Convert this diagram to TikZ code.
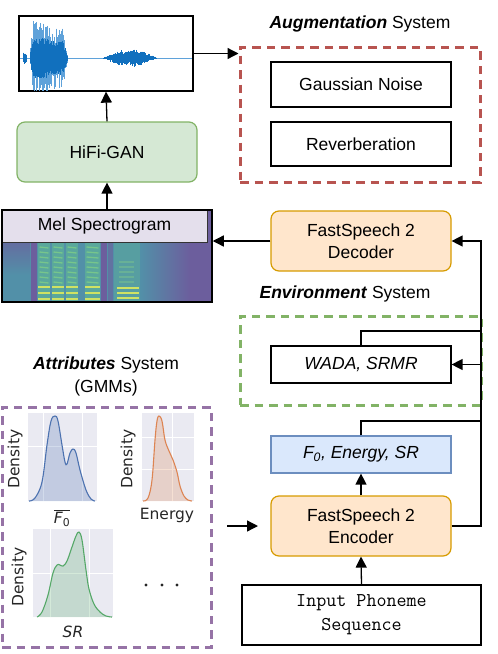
\documentclass[tikz,border=0pt]{standalone}
\usepackage{fontspec}
\setmainfont{Liberation Sans}
\newfontfamily\dejavu{DejaVu Sans}
\usetikzlibrary{arrows.meta,calc}
\definecolor{augred}{HTML}{B85450}
\definecolor{envgreen}{HTML}{82B366}
\definecolor{attrpurple}{HTML}{9673A6}
\definecolor{hififill}{HTML}{D5E8D4}
\definecolor{fsfill}{HTML}{FFE6CC}
\definecolor{fsdraw}{HTML}{D79B00}
\definecolor{fzfill}{HTML}{DAE8FC}
\definecolor{fzdraw}{HTML}{6C8EBF}
\definecolor{mellabel}{HTML}{E4DFEC}
\definecolor{specteal}{HTML}{5290A8}
\definecolor{specpurple}{HTML}{6C5E9D}
\definecolor{specgreen}{HTML}{5AA89C}
\definecolor{harmgreen}{HTML}{76C58C}
\definecolor{harmyel}{HTML}{CFE263}
\definecolor{wavedark}{HTML}{1170BE}
\definecolor{wavelight}{HTML}{5FA2DA}
\definecolor{axbg}{HTML}{EAEAF2}
\definecolor{sbblue}{HTML}{4C72B0}
\definecolor{sborange}{HTML}{DD8452}
\definecolor{sbgreen}{HTML}{55A868}
\definecolor{labgray}{HTML}{262626}
\tikzset{
  base/.style={font=\fontsize{17.5}{22}\selectfont},
  box/.style={base, draw, line width=1.2pt, inner sep=0pt, align=center, minimum width=180pt},
  rbox/.style={box, rounded corners=8pt},
  dashbox/.style={draw, line width=3pt, dash pattern=on 8.5pt off 6pt, inner sep=0pt},
  arr/.style={-{Triangle[length=11pt,width=11pt]}, line width=1.3pt},
  conn/.style={line width=1.3pt},
  dens/.style={font=\dejavu\fontsize{15.5}{18}\selectfont, text=labgray, inner sep=0pt},
  gridw/.style={white, line width=0.8pt},
}
\begin{document}
\begin{tikzpicture}[x=1pt,y=-1pt]
\useasboundingbox (0,0) rectangle (498,654);

% ---------- waveform ----------
\node[draw, line width=1.3pt, fill=white, minimum width=174pt, minimum height=75pt, inner sep=0pt] (wave) at (106,53.5) {};
\begin{scope}
\clip (20,17) rectangle (192,90);
\draw[wavelight, line width=0.8pt] (20,58) -- (192,58);
\pgfmathsetseed{7}
\foreach \x in {23,23.5,...,26.5} {
  \pgfmathsetmacro\up{6*(0.3+0.7*rnd)}
  \pgfmathsetmacro\dn{6*(0.3+0.7*rnd)}
  \draw[wavedark, line width=0.6pt] (\x,58-\up) -- (\x,58+\dn);
}
\foreach \x in {30,30.5,...,68} {
  \pgfmathsetmacro\env{(\x<33) ? ((\x-29)*9) : ((\x<50) ? 37 : ((\x<63) ? 32 : (32*(68-\x)/5)))}
  \pgfmathsetmacro\up{\env*(0.3+0.7*rnd)}
  \pgfmathsetmacro\dn{\env*(0.3+0.7*rnd)}
  \draw[wavelight, line width=0.7pt] (\x,58-\up) -- (\x,58+\dn);
}
\foreach \x in {30.5,31,...,67} {
  \pgfmathsetmacro\env{(\x<33) ? ((\x-29)*5) : ((\x<50) ? 20 : ((\x<63) ? 17 : (17*(68-\x)/5)))}
  \pgfmathsetmacro\up{\env*(0.6+0.4*rnd)}
  \pgfmathsetmacro\dn{\env*(0.6+0.4*rnd)}
  \draw[wavedark, line width=0.8pt] (\x,58-\up) -- (\x,58+\dn);
}
\foreach \x in {103,103.5,...,157} {
  \pgfmathsetmacro\env{9*sin((\x-103)*180/54)}
  \pgfmathsetmacro\up{\env*(0.4+0.6*rnd)}
  \pgfmathsetmacro\dn{\env*(0.4+0.6*rnd)}
  \draw[wavedark, line width=0.6pt] (\x,58-\up) -- (\x,58+\dn);
}
\end{scope}

% ---------- HiFi-GAN ----------
\node[rbox, draw=envgreen, fill=hififill, minimum height=60pt] (hifi) at (107,152) {HiFi-GAN};

% ---------- Augmentation ----------
\node[base] (augtitle) at (360,24) {\textbf{\textit{Augmentation}} System};
\node[dashbox, draw=augred, minimum width=240pt, minimum height=135pt] (aug) at (360,114.5) {};
\node[box, minimum height=45pt] (gauss) at (361,84.5) {Gaussian Noise};
\node[box, minimum height=44pt] (reverb) at (361,144) {Reverberation};

% ---------- Mel spectrogram ----------
\begin{scope}
\clip (2,210) rectangle (212,302);
\fill[specteal] (2,210) rectangle (212,302);
\shade[left color=specteal, right color=specpurple] (140,210) rectangle (190,302);
\fill[specpurple] (190,210) rectangle (212,302);
\shade[top color=specpurple!70!specteal, bottom color=specteal] (2,242) rectangle (30,275);
\fill[specpurple] (31,242) rectangle (37,302);
\fill[specpurple] (101,242) rectangle (107,302);
\fill[specpurple!60!specteal] (108,242) rectangle (113,302);
\foreach \a/\b in {38/50,52/64,66/78,85/100} {
  \fill[specgreen] (\a,242) rectangle (\b,302);
  \foreach \y in {247,252,...,282}
    \draw[harmgreen, line width=1.3pt] (\a+1.5,\y) -- (\b-1.5,\y+1);
  \foreach \y in {287,293,299}
    \draw[harmyel, line width=1.9pt] (\a,\y) -- (\b,\y);
}
\fill[specgreen!60!specteal] (114,242) rectangle (140,302);
\foreach \y in {262,267,...,282}
  \draw[harmgreen!60!specteal, line width=1.3pt] (119,\y) -- (134,\y);
\foreach \y in {288,293,298}
  \draw[harmyel, line width=1.9pt] (117,\y) -- (139,\y);
\end{scope}
\node[base, draw=black!80, line width=1pt, fill=mellabel, minimum width=205pt, minimum height=32pt, inner sep=0pt] (mellab) at (104.5,226) {Mel Spectrogram};
\node[draw, line width=1.5pt, minimum width=210pt, minimum height=92pt, inner sep=0pt] (mel) at (107,256) {};

% ---------- FastSpeech 2 ----------
\node[rbox, draw=fsdraw, fill=fsfill, minimum height=60pt] (dec) at (361,241) {FastSpeech 2\\Decoder};
\node[rbox, draw=fsdraw, fill=fsfill, minimum height=60pt] (enc) at (361,526) {FastSpeech 2\\Encoder};

% ---------- Environment ----------
\node[base] (envtitle) at (345,294) {\textbf{\textit{Environment}} System};
\node[dashbox, draw=envgreen, minimum width=241pt, minimum height=89pt] (env) at (360.5,360.5) {};
\node[box, minimum height=37pt] (wada) at (361,364.5) {\textit{WADA, SRMR}};

% ---------- F0 box ----------
\node[box, draw=fzdraw, fill=fzfill, minimum height=37pt] (fz) at (361,454.5) {\textit{F\textsubscript{0}, Energy, SR}};

% ---------- Input ----------
\node[box, minimum width=239pt, minimum height=60pt, font=\ttfamily\fontsize{19.5}{24}\selectfont] (inp) at (361.5,615) {Input Phoneme\\Sequence};

% ---------- Attributes ----------
\node[base, align=center, font=\fontsize{17.5}{23}\selectfont] (attrtitle) at (106,376) {\textbf{\textit{Attributes}} System\\(GMMs)};
\node[dashbox, draw=attrpurple, minimum width=209pt, minimum height=240pt] (attr) at (106.5,527) {};

% F0 plot
\fill[axbg] (28,413) rectangle (97,501);
\draw[gridw] (43,413) -- (43,501) (82,413) -- (82,501) (28,446) -- (97,446);
\fill[sbblue, fill opacity=0.25] plot[smooth, tension=0.6] coordinates {(29,501) (35,498) (42,482) (47,445) (51,421) (55,416) (58,421) (62,445) (65,462) (67,464) (70,453) (73,449) (76,453) (80,470) (86,490) (91,499) (95,501)} -- cycle;
\draw[sbblue, line width=1.1pt] plot[smooth, tension=0.6] coordinates {(29,501) (35,498) (42,482) (47,445) (51,421) (55,416) (58,421) (62,445) (65,462) (67,464) (70,453) (73,449) (76,453) (80,470) (86,490) (91,499) (95,501)};
\node[dens, rotate=90] (d1) at (15,459) {Density};
\node[dens] (l1) at (62,518) {$\overline{\mbox{\dejavu\itshape F\textsubscript{\upshape 0}}}$};

% Energy plot
\fill[axbg] (142,413) rectangle (194,501);
\draw[gridw] (172,413) -- (172,501) (142,437) -- (194,437) (142,469) -- (194,469);
\fill[sborange, fill opacity=0.25] plot[smooth, tension=0.6] coordinates {(143,501) (148,498) (152,480) (155,440) (157,421) (159,416) (162,421) (165,440) (169,451) (173,460) (177,472) (180,486) (184,496) (188,500) (192,501)} -- cycle;
\draw[sborange, line width=1.1pt] plot[smooth, tension=0.6] coordinates {(143,501) (148,498) (152,480) (155,440) (157,421) (159,416) (162,421) (165,440) (169,451) (173,460) (177,472) (180,486) (184,496) (188,500) (192,501)};
\node[dens, rotate=90] (d2) at (128,459) {Density};
\node[dens] (l2) at (167,515) {Energy};

% SR plot
\fill[axbg] (33,529) rectangle (113,617);
\draw[gridw] (50,529) -- (50,617) (89,529) -- (89,617) (33,573) -- (113,573);
\fill[sbgreen, fill opacity=0.25] plot[smooth, tension=0.6] coordinates {(37,617) (42,612) (48,595) (53,573) (57,565) (60,565) (63,566) (67,561) (72,547) (76,536) (79,532) (82,540) (86,570) (89,589) (94,604) (100,612) (106,616) (112,617)} -- cycle;
\draw[sbgreen, line width=1.1pt] plot[smooth, tension=0.6] coordinates {(37,617) (42,612) (48,595) (53,573) (57,565) (60,565) (63,566) (67,561) (72,547) (76,536) (79,532) (82,540) (86,570) (89,589) (94,604) (100,612) (106,616) (112,617)};
\node[dens, rotate=90] (d3) at (19,577) {Density};
\node[dens] (l3) at (73,632) {\itshape SR};

% dots
\fill[labgray] (146,585) circle (1.7) (162,585) circle (1.7) (177,585) circle (1.7);

% ---------- connectors ----------
\coordinate (bus) at (481,0);
\coordinate (wtop) at (481,331);
\coordinate (ftop) at (481,421);
\coordinate (a1) at (227,526);
\coordinate (a2) at (258,526);

\draw[arr] (hifi.north) -- (wave.south);
\draw[arr] (mel.north) -- (hifi.south);
\draw[arr] (wave.east) -- (wave.east -| aug.west);
\draw[arr] (dec.west) -- (dec.west -| mel.east);
\draw[arr] (enc.east) -| (bus |- dec.east) -- (dec.east);
\draw[arr] (wada.east -| bus) -- (wada.east);
\draw[conn] (wada.north) |- (wtop);
\draw[conn] (fz.north) |- (ftop);
\draw[arr] (enc.north) -- (fz.south);
\draw[arr] (inp.north) -- (enc.south);
\draw[arr] (a1) -- (a2);
\end{tikzpicture}
\end{document}
